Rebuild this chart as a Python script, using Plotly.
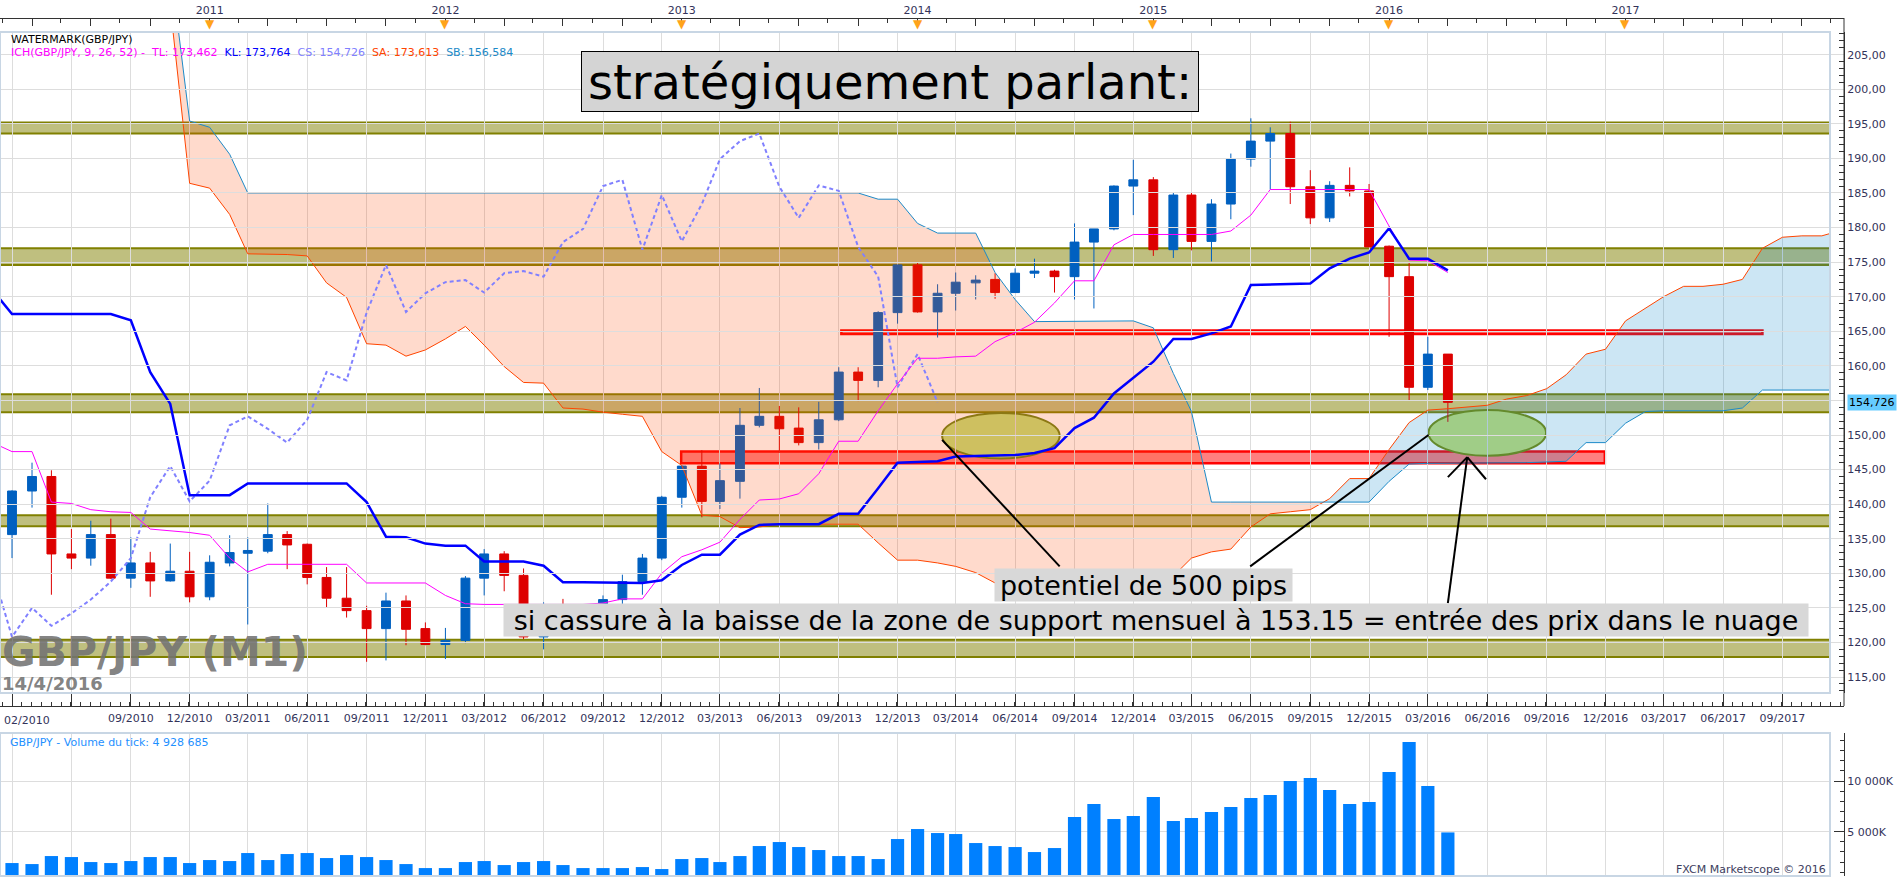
import pandas as pd
import plotly.graph_objects as go

# GBP/JPY monthly candles (M1), Mar 2010 -> Apr 2016
months = pd.date_range("2010-03-01", periods=74, freq="MS")
open_p = [135.6, 141.9, 144.0, 132.8, 132.2, 135.6, 129.3, 131.5, 128.9, 130.3,
          126.6, 131.5, 132.9, 133.2, 135.6, 134.2, 129.4, 126.4, 124.6, 122.0,
          126.0, 122.0, 119.7, 120.3, 129.3, 132.8, 129.7, 120.8, 125.0, 122.4,
          124.2, 126.2, 128.8, 132.2, 141.0, 145.5, 140.4, 143.3, 151.4, 152.7,
          151.0, 148.9, 152.2, 159.1, 157.9, 167.7, 174.6, 167.8, 170.5, 172.0,
          172.5, 170.6, 173.4, 173.7, 172.9, 177.9, 179.8, 186.0, 186.9, 176.8,
          184.7, 178.0, 183.4, 189.9, 192.5, 193.6, 185.9, 181.4, 186.1, 185.3,
          177.3, 172.9, 156.9, 161.7]
high_p = [142.0, 146.0, 144.9, 136.4, 137.6, 137.9, 135.2, 133.1, 134.3, 133.1,
          132.6, 135.5, 135.2, 140.1, 136.1, 134.3, 130.9, 130.9, 125.3, 127.2,
          126.8, 122.9, 122.1, 129.6, 133.5, 133.2, 130.7, 125.8, 126.3, 125.0,
          126.8, 129.8, 132.8, 141.2, 145.6, 147.8, 145.9, 153.9, 156.8, 154.2,
          154.0, 154.8, 159.8, 159.8, 167.9, 174.6, 174.9, 171.8, 173.5, 173.1,
          173.4, 174.1, 175.5, 173.9, 180.6, 179.8, 186.1, 189.8, 187.3, 185.0,
          185.0, 184.1, 190.7, 195.8, 194.5, 195.3, 188.3, 186.7, 188.7, 186.3,
          177.4, 175.0, 164.2, 161.7]
low_p = [132.2, 139.5, 126.9, 130.6, 131.1, 129.2, 127.9, 126.6, 128.8, 125.8,
         126.1, 131.0, 122.6, 132.9, 130.6, 128.4, 125.1, 123.6, 117.2, 117.4,
         119.6, 119.6, 117.6, 119.9, 126.8, 127.4, 120.5, 119.0, 121.6, 121.3,
         122.6, 124.2, 126.9, 131.9, 139.5, 138.1, 139.3, 140.8, 151.1, 147.4,
         148.5, 147.9, 152.0, 154.9, 156.9, 166.1, 167.7, 164.1, 168.0, 169.6,
         169.7, 170.6, 172.7, 170.6, 169.6, 168.3, 179.6, 181.8, 175.9, 175.6,
         176.7, 175.1, 181.2, 188.8, 185.5, 183.4, 180.5, 180.8, 184.5, 177.2,
         164.2, 155.0, 156.5, 151.9]
close_p = [141.9, 144.0, 132.8, 132.2, 135.6, 129.3, 131.5, 128.9, 130.3, 126.6,
           131.6, 133.0, 133.3, 135.6, 134.1, 129.4, 126.4, 124.6, 122.0, 126.0,
           121.9, 119.7, 120.3, 129.3, 132.8, 129.7, 120.8, 125.0, 122.4, 124.2,
           126.2, 128.8, 132.2, 141.0, 145.5, 140.4, 143.4, 151.4, 152.7, 150.9,
           148.9, 152.2, 159.1, 157.9, 167.7, 174.6, 167.8, 170.5, 172.1, 172.4,
           170.6, 173.4, 173.7, 172.9, 177.9, 179.8, 186.0, 186.9, 176.8, 184.7,
           178.0, 183.4, 189.9, 192.5, 193.6, 185.9, 181.4, 186.1, 185.3, 177.2,
           172.9, 156.9, 161.7, 154.726]
# tick volume, thousands
volume_k = [1908, 1809, 2599, 2500, 2007, 1908, 2105, 2500, 2500, 1908,
            2204, 2105, 2895, 2204, 2796, 2895, 2401, 2697, 2500, 2204,
            1809, 1414, 1414, 2007, 2105, 1711, 2007, 2105, 1711, 1414,
            1414, 1414, 1513, 1316, 2303, 2401, 2007, 2599, 3586, 3980,
            3487, 3191, 2599, 2599, 2303, 4276, 5263, 4868, 4770, 3882,
            3586, 3487, 2993, 3388, 6447, 7730, 6250, 6546, 8421, 6053,
            6349, 6941, 7434, 8322, 8618, 10000, 10296, 9112, 7730, 7928,
            10888, 13849, 9507, 4929]

# Ichimoku (9, 26, 52) lines as drawn on the chart
ichi_months = pd.date_range("2010-02-01", periods=75, freq="MS")
tenkan = [148.8, 147.6, 147.6, 140.3, 140.1, 139.2, 138.9, 138.8, 136.4, 136.2,
          135.9, 135.5, 132.2, 130.2, 131.3, 131.3, 131.3, 131.3, 131.3, 128.6,
          128.6, 128.6, 128.6, 126.8, 125.6, 125.5, 125.5, 125.5, 125.5, 125.5,
          125.5, 125.7, 126.3, 126.3, 130.0, 132.4, 133.4, 134.5, 137.8, 140.6,
          140.75, 141.5, 144.4, 149.1, 149.1, 153.5, 157.4, 161.1, 161.1, 161.3,
          161.4, 163.5, 164.8, 166.3, 169.1, 172.3, 172.3, 177.5, 179.0, 179.0,
          179.0, 179.0, 179.0, 179.5, 181.8, 185.5, 185.5, 185.5, 185.5, 185.5,
          185.5, 180.2, 175.3, 175.2, 173.5]
kijun = [170.7, 167.5, 167.5, 167.5, 167.5, 167.5, 167.5, 166.6, 159.1, 154.5,
         141.3, 141.3, 141.3, 143.0, 143.0, 143.0, 143.0, 143.0, 143.0, 140.3,
         135.3, 135.2, 134.3, 134.0, 134.0, 131.7, 131.7, 131.7, 131.1, 128.7,
         128.7, 128.7, 128.6, 128.6, 129.0, 131.2, 132.7, 132.7, 135.6, 137.0,
         137.1, 137.1, 137.1, 138.6, 138.6, 142.3, 146.0, 146.1, 146.2, 146.9,
         147.0, 147.0, 147.1, 147.4, 148.1, 151.0, 152.5, 156.0, 158.2, 160.6,
         163.9, 163.9, 164.7, 165.7, 171.7, 171.8, 171.8, 171.9, 174.1, 175.5,
         176.4, 179.9, 175.5, 175.5, 173.8]
# chikou = closes drawn 26 months back
chikou_months = pd.date_range("2008-01-01", periods=74, freq="MS")
# senkou spans, already drawn 26 months ahead
span_months = pd.date_range("2010-11-01", periods=86, freq="MS")
senkou_a = [212.0, 186.4, 185.7, 181.9, 176.2, 176.2, 176.1, 175.9, 172.0, 169.9,
            163.2, 163.0, 161.4, 162.3, 163.9, 165.7, 163.0, 159.9, 157.6, 157.5,
            153.9, 153.75, 153.3, 153.0, 152.7, 147.6, 145.6, 138.4, 138.2, 136.6,
            136.7, 137.1, 137.1, 137.1, 137.1, 137.1, 134.4, 131.9, 131.9, 131.5,
            131.0, 130.1, 128.6, 128.6, 128.5, 128.3, 127.1, 127.1, 127.2, 127.4,
            127.5, 129.6, 132.2, 133.1, 133.5, 136.7, 138.6, 138.9, 139.2, 140.8,
            143.7, 143.7, 147.9, 151.8, 153.6, 153.8, 154.0, 154.3, 155.2, 155.7,
            156.7, 158.7, 161.7, 162.4, 166.5, 168.3, 170.0, 171.5, 171.5, 171.8,
            172.5, 177.0, 178.6, 178.8, 178.8, 179.6]
senkou_b = [218.0, 195.4, 194.5, 190.6, 185.0, 185.0, 185.0, 185.0, 185.0, 185.0,
            185.0, 185.0, 185.0, 185.0, 185.0, 185.0, 185.0, 185.0, 185.0, 185.0,
            185.0, 185.0, 185.0, 185.0, 185.0, 185.0, 185.0, 185.0, 185.0, 185.0,
            185.0, 185.0, 185.0, 185.0, 185.0, 185.0, 184.1, 184.1, 180.6, 179.2,
            179.2, 179.2, 173.5, 169.6, 166.4, 166.4, 166.4, 166.4, 166.4, 166.5,
            165.5, 158.9, 153.4, 140.3, 140.3, 140.3, 140.3, 140.3, 140.3, 140.3,
            140.3, 140.3, 143.3, 145.8, 145.9, 145.9, 145.9, 145.9, 146.0, 146.0,
            146.1, 146.2, 148.9, 148.9, 151.7, 153.4, 153.5, 153.5, 153.5, 153.5,
            153.9, 156.5, 156.5, 156.5, 156.5, 156.5]

# monthly support / resistance zones
zone_low = [193.6, 174.6, 153.3, 136.8, 117.9]
zone_high = [195.2, 177.0, 155.9, 138.4, 120.4]

BULL = "#0060C0"
BEAR = "#DD0000"
AXC = "#33335A"
FONT = "DejaVu Sans"

W, H = 1903, 878
PW = 1844  # paper width, right margin keeps the price labels


def px(v):
    return v / PW


def py(v):
    return 1 - v / H


day_px = 19.66 * 12 / 365.25
t0 = pd.Timestamp("2010-03-01")
x_start = t0 - pd.Timedelta(days=12 / day_px)
x_end = t0 + pd.Timedelta(days=(1830 - 12) / day_px)
x_end_full = t0 + pd.Timedelta(days=(1844 - 12) / day_px)


def cloud_pieces(xs, a, b):
    t = [x.value for x in xs]
    pieces = []
    sign = a[0] >= b[0]
    cx, ca, cb = [t[0]], [a[0]], [b[0]]
    for k in range(1, len(t)):
        s = a[k] >= b[k]
        if s != sign:
            d0 = a[k - 1] - b[k - 1]
            d1 = a[k] - b[k]
            f = d0 / (d0 - d1)
            tx = t[k - 1] + f * (t[k] - t[k - 1])
            ty = a[k - 1] + f * (a[k] - a[k - 1])
            cx.append(tx); ca.append(ty); cb.append(ty)
            pieces.append((sign, cx, ca, cb))
            cx, ca, cb = [tx], [ty], [ty]
            sign = s
        cx.append(t[k]); ca.append(a[k]); cb.append(b[k])
    pieces.append((sign, cx, ca, cb))
    return pieces


fig = go.Figure()

fig.add_trace(go.Candlestick(
    x=months, open=open_p, high=high_p, low=low_p, close=close_p,
    increasing=dict(line=dict(color=BULL, width=1), fillcolor=BULL),
    decreasing=dict(line=dict(color=BEAR, width=1), fillcolor=BEAR),
    whiskerwidth=0, hoverinfo="skip"))

for up, cx, ca, cb in cloud_pieces(span_months, senkou_a, senkou_b):
    xx = pd.to_datetime(cx + cx[::-1])
    fig.add_trace(go.Scatter(
        x=xx, y=ca + cb[::-1], mode="lines", fill="toself", line=dict(width=0),
        fillcolor="rgba(0,130,200,0.2)" if up else "rgba(255,69,0,0.2)",
        hoverinfo="skip"))

fig.add_trace(go.Scatter(x=span_months, y=senkou_a, mode="lines",
                         line=dict(color="#FF4500", width=1)))
fig.add_trace(go.Scatter(x=span_months, y=senkou_b, mode="lines",
                         line=dict(color="#1C8AC8", width=1)))
fig.add_trace(go.Scatter(x=chikou_months, y=close_p, mode="lines",
                         line=dict(color="#8080FF", width=2, dash="4px,3px")))
fig.add_trace(go.Scatter(x=ichi_months, y=tenkan, mode="lines",
                         line=dict(color="#FF00FF", width=1)))
fig.add_trace(go.Scatter(x=ichi_months, y=kijun, mode="lines",
                         line=dict(color="#0000FF", width=2.5)))

fig.add_trace(go.Bar(x=months, y=volume_k, marker=dict(color="#0080FF", line=dict(width=0)),
                     xaxis="x2", yaxis="y2"))
# empty traces so the free top / bottom date axes get drawn
fig.add_trace(go.Scatter(x=[], y=[], xaxis="x3", yaxis="y"))
fig.add_trace(go.Scatter(x=[], y=[], xaxis="x4", yaxis="y"))

grid_q = pd.date_range("2010-03-01", "2017-09-01", freq="3MS")
grid_text = ["" if d.year == 2010 and d.month < 9 else d.strftime("%m/%Y") for d in grid_q]
top_q = pd.date_range("2010-04-01", "2017-10-01", freq="3MS")
top_text = [str(d.year) if d.month == 1 else "" for d in top_q]
years = [d for d in top_q if d.month == 1]
price_ticks = list(range(115, 210, 5))
price_text = ["" if v == 155 else f"{v},00" for v in price_ticks]

shapes = []
for lo, hi in zip(zone_low, zone_high):
    shapes.append(dict(type="rect", xref="x domain", yref="y", x0=0, x1=1, y0=lo, y1=hi,
                       fillcolor="rgba(128,128,0,0.5)", line=dict(width=0), layer="below"))
    for v in (lo, hi):
        shapes.append(dict(type="line", xref="x domain", yref="y", x0=0, x1=1, y0=v, y1=v,
                           line=dict(color="rgb(128,128,0)", width=2), layer="below"))

red_box = dict(fillcolor="rgba(255,0,0,0.5)", line=dict(color="#FF0000", width=2.5), layer="below")
shapes.append(dict(type="rect", xref="x", yref="y", x0="2013-09-05", x1="2017-08-01",
                   y0=164.6, y1=165.1, **red_box))
shapes.append(dict(type="rect", xref="x", yref="y", x0="2012-12-31", x1="2016-11-30",
                   y0=145.9, y1=147.6, **red_box))
# ellipses sit under the cloud tint, so their colours are pre-compensated
shapes.append(dict(type="circle", xref="x", yref="y", x0="2014-02-08", x1="2014-08-09",
                   y0=146.6, y1=153.2, fillcolor="rgb(194,223,120)",
                   line=dict(color="rgb(112,133,25)", width=2), layer="below"))
shapes.append(dict(type="circle", xref="x", yref="y", x0="2016-03-02", x1="2016-08-31",
                   y0=147.0, y1=153.6, fillcolor="rgb(200,224,119)",
                   line=dict(color="rgb(125,140,5)", width=2), layer="below"))
pen = dict(color="black", width=2)
shapes.append(dict(type="line", xref="x", yref="y", x0="2014-02-08", y0=149.3,
                   x1="2014-08-09", y1=131.0, line=pen))
shapes.append(dict(type="line", xref="x", yref="y", x0="2015-05-31", y0=131.0,
                   x1="2016-03-02", y1=150.0, line=pen))
shapes.append(dict(type="line", xref="x", yref="y", x0="2016-04-01", y0=125.7,
                   x1="2016-05-01", y1=146.8, line=pen))
shapes.append(dict(type="line", xref="x", yref="y", x0="2016-04-01", y0=143.9,
                   x1="2016-05-01", y1=146.8, line=pen))
shapes.append(dict(type="line", xref="x", yref="y", x0="2016-05-30", y0=143.6,
                   x1="2016-05-01", y1=146.8, line=pen))

# panel frames and the long right axis line
frame = dict(color="#C8D6E4", width=2)
shapes.append(dict(type="rect", xref="x domain", yref="y domain", x0=0, x1=1, y0=0, y1=1,
                   line=frame, layer="above"))
shapes.append(dict(type="rect", xref="x2 domain", yref="y2 domain", x0=0, x1=1, y0=0, y1=1,
                   line=frame, layer="above"))
shapes.append(dict(type="line", xref="paper", yref="paper", x0=1, x1=1, y0=py(706), y1=py(18),
                   line=dict(color="#333333", width=1)))


def note(x, y, text, size=11, color="black", xanchor="left", **kw):
    return dict(x=x, y=y, xref="paper", yref="paper", xanchor=xanchor, yanchor="middle",
                text=text, showarrow=False, font=dict(size=size, color=color), **kw)


ann = []
ann.append(note(px(9), py(39), "WATERMARK(GBP/JPY)"))
ich = ('<span style="color:#FF00FF">ICH(GBP/JPY, 9, 26, 52) -  TL: 173,462</span>  '
       '<span style="color:#0000FF">KL: 173,764</span>  '
       '<span style="color:#8080FF">CS: 154,726</span>  '
       '<span style="color:#FF4500">SA: 173,613</span>  '
       '<span style="color:#1C8AC8">SB: 156,584</span>')
ann.append(note(px(9), py(53), ich))
ann.append(note(px(890), py(81.5), "stratégiquement parlant:", size=48, xanchor="center",
                bgcolor="#D4D4D4", bordercolor="black", borderwidth=1, borderpad=0,
                width=616, height=59))
ann.append(note(px(1143.5), py(585), "potentiel de 500 pips", size=27, xanchor="center",
                bgcolor="#D8D8D8", borderpad=0, width=297, height=32))
ann.append(note(px(1156), py(620),
                "si cassure à la baisse de la zone de support mensuel à 153.15 = entrée des prix dans le nuage",
                size=27, xanchor="center", bgcolor="#D8D8D8", borderpad=0, width=1304, height=32))
ann.append(note(0, py(652), "<b>GBP/JPY (M1)</b>", size=41, color="rgba(115,115,115,0.9)"))
ann.append(note(0, py(683), "<b>14/4/2016</b>", size=18, color="rgba(115,115,115,0.9)"))
ann.append(note(px(2), py(720), "02/2010", color=AXC))
ann.append(note(px(8), py(742), "GBP/JPY - Volume du tick: 4 928 685", color="#1E90FF"))
ann.append(note(px(1828), py(869), "FXCM Marketscope © 2016", color="#404060", xanchor="right"))
ann.append(dict(x=1, y=close_p[-1], xref="paper", yref="y", xanchor="left", yanchor="middle",
                xshift=3, text="154,726", showarrow=False, bgcolor="#66CCFF", borderpad=1,
                font=dict(size=11, color="black")))
for d in years:
    ann.append(dict(x=d, y=py(24), xref="x4", yref="paper", xanchor="center", yanchor="middle",
                    text="▼", showarrow=False, font=dict(size=12, color="#FFA31A")))

tickfont = dict(size=11, color=AXC)
fig.update_layout(
    width=W, height=H, margin=dict(l=0, r=W - PW, t=0, b=0),
    paper_bgcolor="white", plot_bgcolor="rgba(0,0,0,0)", showlegend=False,
    hovermode=False, separators=", ", bargap=0.27,
    font=dict(family=FONT, size=11, color=AXC),
    shapes=shapes, annotations=ann,
    xaxis=dict(type="date", domain=[0, px(1830)], range=[x_start, x_end], anchor="y",
               tickmode="array", tickvals=grid_q, showticklabels=False, ticks="",
               showgrid=True, gridcolor="#DDDDDD", zeroline=False,
               rangeslider=dict(visible=False)),
    yaxis=dict(domain=[py(693), py(32)], range=[112.69, 208.28], anchor="free", position=1,
               side="right", tickmode="array", tickvals=price_ticks, ticktext=price_text,
               ticks="inside", ticklen=12, tickcolor="#333333", showline=True,
               linecolor="#333333", showgrid=True, gridcolor="#DDDDDD", zeroline=False,
               tickfont=tickfont,
               minor=dict(tickmode="linear", tick0=0, dtick=1, ticks="inside", ticklen=5,
                          tickcolor="#333333", showgrid=False)),
    xaxis2=dict(type="date", domain=[0, px(1830)], range=[x_start, x_end], anchor="y2",
                tickmode="array", tickvals=grid_q, showticklabels=False, ticks="",
                showgrid=True, gridcolor="#DDDDDD", zeroline=False),
    yaxis2=dict(domain=[py(876), py(733)], range=[631, 14734], anchor="free", position=1,
                side="right", tickmode="array", tickvals=[5000, 10000],
                ticktext=["5 000K", "10 000K"], ticks="inside", ticklen=10,
                tickcolor="#333333", showline=True, linecolor="#333333", showgrid=True,
                gridcolor="#DDDDDD", zeroline=False, tickfont=tickfont,
                minor=dict(tickmode="linear", tick0=0, dtick=1000, ticks="inside", ticklen=4,
                           tickcolor="#333333", showgrid=False)),
    xaxis3=dict(type="date", domain=[0, 1], range=[x_start, x_end_full], anchor="free",
                position=py(706), side="bottom", tickmode="array", tickvals=grid_q,
                ticktext=grid_text, ticks="inside", ticklen=13, tickcolor="#333333",
                showline=True, linecolor="#333333", showgrid=False, zeroline=False,
                tickfont=tickfont, ticklabelstandoff=2,
                minor=dict(tick0="2010-03-01", dtick=86400000 * 15.22, ticks="inside",
                           ticklen=4, tickcolor="#333333", showgrid=False)),
    xaxis4=dict(type="date", domain=[0, 1], range=[x_start, x_end_full], anchor="free",
                position=py(18), side="top", tickmode="array", tickvals=top_q,
                ticktext=top_text, ticks="inside", ticklen=7, tickcolor="#333333",
                showline=True, linecolor="#333333", showgrid=False, zeroline=False,
                tickfont=tickfont,
                minor=dict(tick0="2010-02-15", dtick="M3", ticks="inside", ticklen=4,
                           tickcolor="#333333", showgrid=False)),
)

fig.write_html("out.html", config={"displayModeBar": False},
               post_script="document.body.style.margin='0';")
